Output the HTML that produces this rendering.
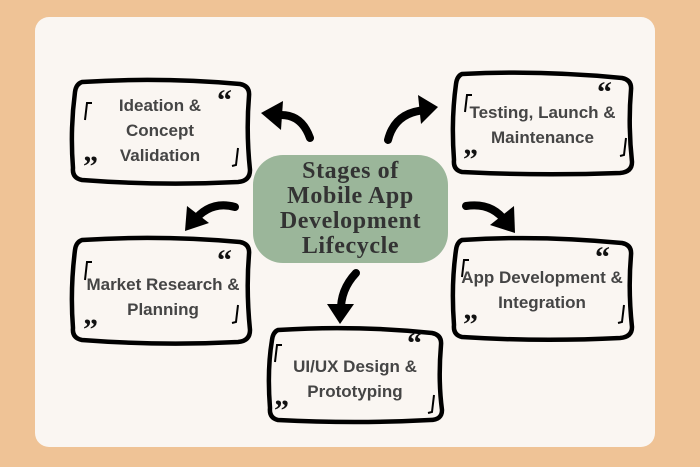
<!DOCTYPE html>
<html><head><meta charset="utf-8"><style>
html,body{margin:0;padding:0;}
body{width:700px;height:467px;background:#EFC396;position:relative;overflow:hidden;font-family:"Liberation Sans",sans-serif;}
.card{position:absolute;left:35px;top:17px;width:620px;height:430px;background:#FAF6F2;border-radius:14px;}
svg{position:absolute;left:0;top:0;}
.t{position:absolute;text-align:center;color:#454545;font-size:17px;font-weight:bold;line-height:25px;}
.c{position:absolute;left:253px;top:155px;width:195px;height:108px;background:#9BB69A;border-radius:30px;text-align:center;font-family:"Liberation Serif",serif;font-weight:bold;font-size:24px;letter-spacing:0.6px;line-height:25px;color:#333;display:flex;align-items:center;justify-content:center;}
</style></head><body>
<div class="card"></div>
<svg width="700" height="467" viewBox="0 0 700 467">
<g fill="none" stroke="#000" stroke-width="4.5" stroke-linejoin="round">
<path d="M82 82 Q160 77 240 84 Q250 86 249 96 Q246 132 250 170 Q250 181 238 182 Q160 186 82 180 Q72 178 73 168 Q70 130 75 92 Q76 84 82 82Z"/>
<path d="M462 74 Q540 70 622 78 Q632 80 631 90 Q628 125 632 162 Q632 172 620 173 Q540 176 462 172 Q453 170 454 160 Q451 120 456 84 Q457 76 462 74Z"/>
<path d="M82 240 Q160 235 240 242 Q250 244 249 254 Q246 290 250 330 Q250 341 238 342 Q160 346 82 340 Q72 338 73 328 Q70 290 75 250 Q76 242 82 240Z"/>
<path d="M462 240 Q540 235 622 243 Q632 245 631 255 Q628 290 632 327 Q632 337 620 338 Q540 342 462 337 Q453 335 454 325 Q451 285 456 250 Q457 242 462 240Z"/>
<path d="M278 330 Q355 325 432 333 Q442 335 441 345 Q438 380 442 410 Q442 420 430 420 Q355 424 278 420 Q269 418 270 408 Q267 370 272 340 Q273 332 278 330Z"/>
</g>
<g fill="none" stroke="#000" stroke-width="2">
<path d="M92 103 L87 103 L85 120"/><path d="M238 148 L236 165 L232 166"/>
<path d="M472 95 L467 95 L465 112"/><path d="M626 138 L624 155 L620 156"/>
<path d="M92 262 L87 262 L85 280"/><path d="M238 305 L236 322 L232 323"/>
<path d="M469 260 L464 260 L462 277"/><path d="M624 305 L622 322 L618 323"/>
<path d="M282 345 L277 345 L275 362"/><path d="M434 395 L432 412 L428 413"/>
</g>
<g font-family="Liberation Serif,serif" font-weight="bold" font-size="30" fill="#111">
<text x="217" y="110">“</text><text x="83" y="176">”</text>
<text x="597" y="102">“</text><text x="463" y="169">”</text>
<text x="217" y="270">“</text><text x="83" y="339">”</text>
<text x="595" y="267">“</text><text x="463" y="334">”</text>
<text x="407" y="353">“</text><text x="274" y="420">”</text>
</g>
<g fill="#000" stroke="#000" stroke-linecap="round">
<path d="M310 138 Q300 110 272 116" fill="none" stroke-width="8"/><polygon points="261,113 283,101 281,130" stroke="none"/>
<path d="M388 140 Q395 112 426 110" fill="none" stroke-width="8"/><polygon points="438,107 418,95 421,124" stroke="none"/>
<path d="M235 207 Q210 200 193 222" fill="none" stroke-width="8"/><polygon points="185,231 187,206 209,223" stroke="none"/>
<path d="M466 206 Q492 202 506 222" fill="none" stroke-width="8"/><polygon points="515,233 490,225 514,206" stroke="none"/>
<path d="M356 273 Q340 290 341 312" fill="none" stroke-width="8"/><polygon points="340,324 327,304 354,304" stroke="none"/>
</g>
</svg>
<div class="t" style="left:80px;top:93px;width:160px;">Ideation &amp;<br>Concept<br>Validation</div>
<div class="t" style="left:455px;top:100px;width:175px;">Testing, Launch &amp;<br>Maintenance</div>
<div class="t" style="left:73px;top:272px;width:180px;">Market Research &amp;<br>Planning</div>
<div class="t" style="left:447px;top:265px;width:190px;">App Development &amp;<br>Integration</div>
<div class="t" style="left:270px;top:354px;width:170px;">UI/UX Design &amp;<br>Prototyping</div>
<div class="c"><div>Stages of<br>Mobile App<br>Development<br>Lifecycle</div></div>
</body></html>
